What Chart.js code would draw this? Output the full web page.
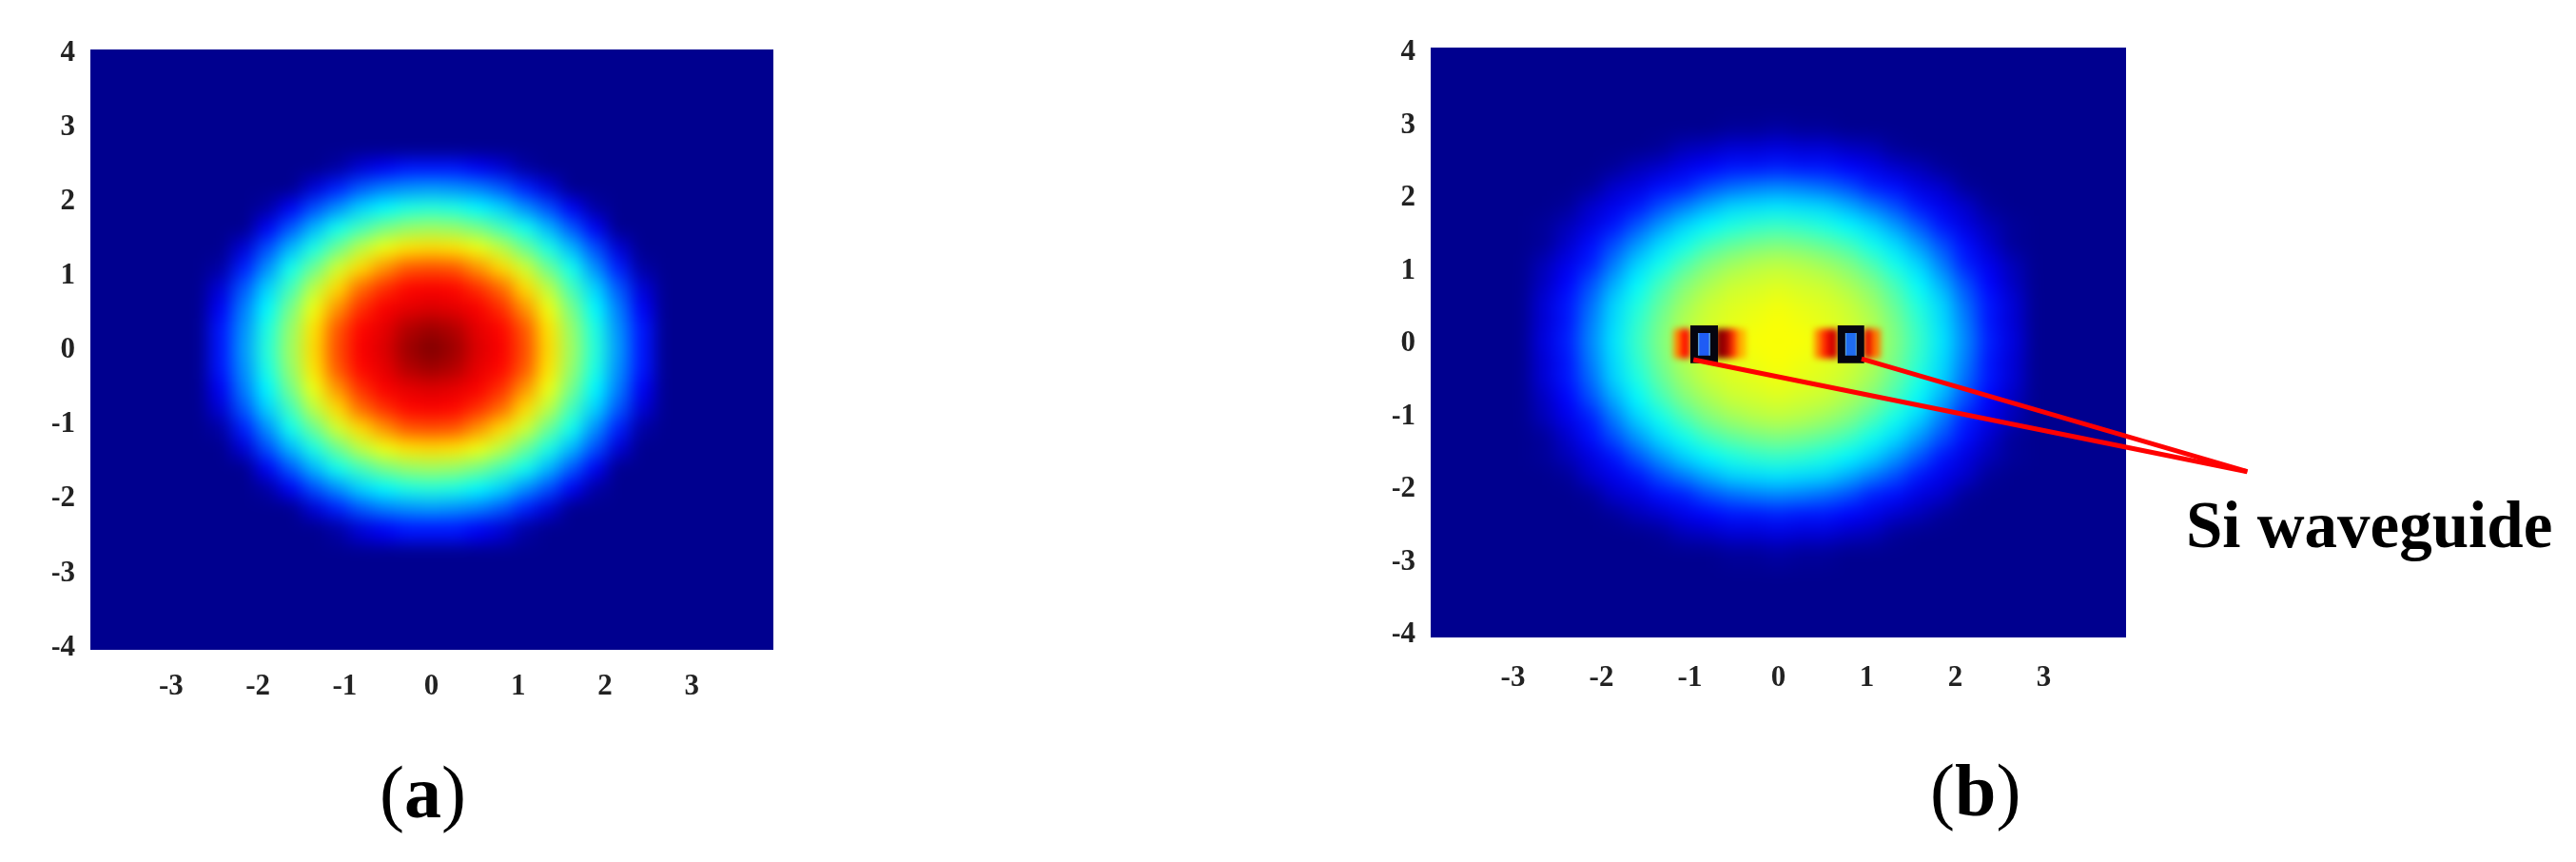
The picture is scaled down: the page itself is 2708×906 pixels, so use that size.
<!DOCTYPE html>
<html>
<head>
<meta charset="utf-8">
<script src="https://cdn.jsdelivr.net/npm/chart.js@4"></script>
<style>
    html, body { margin: 0; background: #fff; }
    body { width: 2708px; height: 906px; position: relative; overflow: hidden; }
    canvas { position: absolute; top: 0; }
    #chart_a { left: 0; }
    #chart_b { left: 1400px; }
    .label { position: absolute; font-family: "Liberation Serif"; line-height: 1; color: #000; white-space: nowrap; }
</style>
</head>
<body>
<canvas id="chart_a" width="1000" height="906"></canvas>
<canvas id="chart_b" width="1308" height="906"></canvas>
<span class="label" style="left:399px;top:794px;font-size:78px">(<b>a</b>)</span>
<span class="label" style="left:2029px;top:792px;font-size:78px">(<b>b</b>)</span>
<span class="label" style="left:2298px;top:518px;font-size:69px;font-weight:bold">Si waveguide</span>
<script>
const xTicks = [-3, -2, -1, 0, 1, 2, 3]
const yTicks = [-4, -3, -2, -1, 0, 1, 2, 3, 4]

// panel (a), field in percent of the colour range
const xCellsA = [-2.43, -2.16, -1.89, -1.62, -1.35, -1.08, -0.81, -0.54, -0.27, 0, 0.27, 0.54, 0.81, 1.08, 1.35, 1.62, 1.89, 2.16, 2.43]
const yCellsA = [2.43, 2.16, 1.89, 1.62, 1.35, 1.08, 0.81, 0.54, 0.27, 0, -0.27, -0.54, -0.81, -1.08, -1.35, -1.62, -1.89, -2.16, -2.43]
const fieldA = [
    [0, 0, 0, 0, 0, 2, 7, 10, 13, 13, 13, 10, 7, 2, 0, 0, 0, 0, 0],
    [0, 0, 0, 0, 7, 14, 20, 24, 26, 27, 26, 24, 20, 14, 7, 0, 0, 0, 0],
    [0, 0, 2, 10, 19, 26, 33, 37, 40, 41, 40, 37, 33, 26, 19, 10, 2, 0, 0],
    [0, 0, 10, 20, 30, 39, 44, 49, 52, 53, 52, 49, 44, 39, 30, 20, 10, 0, 0],
    [0, 7, 19, 30, 40, 48, 56, 61, 65, 66, 65, 61, 56, 48, 40, 30, 19, 7, 0],
    [2, 14, 26, 39, 48, 58, 66, 73, 79, 80, 79, 73, 66, 58, 48, 39, 26, 14, 2],
    [7, 20, 33, 44, 56, 66, 77, 83, 87, 88, 87, 83, 77, 66, 56, 44, 33, 20, 7],
    [10, 24, 37, 49, 61, 73, 83, 88, 90, 91, 90, 88, 83, 73, 61, 49, 37, 24, 10],
    [13, 26, 40, 52, 65, 79, 87, 90, 95, 97, 95, 90, 87, 79, 65, 52, 40, 26, 13],
    [13, 27, 41, 53, 66, 80, 88, 91, 97, 100, 97, 91, 88, 80, 66, 53, 41, 27, 13],
    [13, 26, 40, 52, 65, 79, 87, 90, 95, 97, 95, 90, 87, 79, 65, 52, 40, 26, 13],
    [10, 24, 37, 49, 61, 73, 83, 88, 90, 91, 90, 88, 83, 73, 61, 49, 37, 24, 10],
    [7, 20, 33, 44, 56, 66, 77, 83, 87, 88, 87, 83, 77, 66, 56, 44, 33, 20, 7],
    [2, 14, 26, 39, 48, 58, 66, 73, 79, 80, 79, 73, 66, 58, 48, 39, 26, 14, 2],
    [0, 7, 19, 30, 40, 48, 56, 61, 65, 66, 65, 61, 56, 48, 40, 30, 19, 7, 0],
    [0, 0, 10, 20, 30, 39, 44, 49, 52, 53, 52, 49, 44, 39, 30, 20, 10, 0, 0],
    [0, 0, 2, 10, 19, 26, 33, 37, 40, 41, 40, 37, 33, 26, 19, 10, 2, 0, 0],
    [0, 0, 0, 0, 7, 14, 20, 24, 26, 27, 26, 24, 20, 14, 7, 0, 0, 0, 0],
    [0, 0, 0, 0, 0, 2, 7, 10, 13, 13, 13, 10, 7, 2, 0, 0, 0, 0, 0]
]

// panel (b)
const xCellsB = [-2.65, -2.385, -2.12, -1.855, -1.59, -1.325, -1.06, -0.795, -0.53, -0.265, 0, 0.265, 0.53, 0.795, 1.06, 1.325, 1.59, 1.855, 2.12, 2.385, 2.65]
const yCellsB = [2.915, 2.65, 2.385, 2.12, 1.855, 1.59, 1.325, 1.06, 0.795, 0.53, 0.265, 0, -0.265, -0.53, -0.795, -1.06, -1.325, -1.59, -1.855, -2.12, -2.385, -2.65, -2.915]
const fieldB = [
    [0, 0, 0, 0, 0, 0, 0, 0, 1, 1, 2, 1, 1, 0, 0, 0, 0, 0, 0, 0, 0],
    [0, 0, 0, 0, 0, 1, 4, 5, 7, 7, 8, 7, 7, 5, 4, 1, 0, 0, 0, 0, 0],
    [0, 0, 0, 1, 4, 6, 9, 11, 13, 13, 14, 13, 13, 11, 9, 6, 4, 1, 0, 0, 0],
    [0, 0, 1, 6, 8, 12, 14, 19, 22, 24, 25, 24, 22, 19, 14, 12, 8, 6, 1, 0, 0],
    [0, 1, 6, 9, 13, 19, 24, 29, 33, 34, 35, 34, 33, 29, 24, 19, 13, 9, 6, 1, 0],
    [1, 4, 8, 13, 20, 27, 33, 37, 40, 42, 43, 42, 40, 37, 33, 27, 20, 13, 8, 4, 1],
    [1, 6, 12, 19, 27, 34, 39, 44, 47, 49, 50, 49, 47, 44, 39, 34, 27, 19, 12, 6, 1],
    [4, 9, 14, 24, 33, 39, 45, 50, 53, 55, 56, 55, 53, 50, 45, 39, 33, 24, 14, 9, 4],
    [5, 11, 19, 29, 37, 44, 50, 54, 57, 58, 59, 58, 57, 54, 50, 44, 37, 29, 19, 11, 5],
    [7, 13, 22, 33, 40, 47, 53, 57, 59, 60, 61, 60, 59, 57, 53, 47, 40, 33, 22, 13, 7],
    [7, 13, 24, 34, 42, 49, 55, 58, 60, 61, 62, 61, 60, 58, 55, 49, 42, 34, 24, 13, 7],
    [8, 14, 25, 35, 43, 50, 56, 59, 61, 62, 62, 62, 61, 59, 56, 50, 43, 35, 25, 14, 8],
    [7, 13, 24, 34, 42, 49, 55, 58, 60, 61, 62, 61, 60, 58, 55, 49, 42, 34, 24, 13, 7],
    [7, 13, 22, 33, 40, 47, 53, 57, 59, 60, 61, 60, 59, 57, 53, 47, 40, 33, 22, 13, 7],
    [5, 11, 19, 29, 37, 44, 50, 54, 57, 58, 59, 58, 57, 54, 50, 44, 37, 29, 19, 11, 5],
    [4, 9, 14, 24, 33, 39, 45, 50, 53, 55, 56, 55, 53, 50, 45, 39, 33, 24, 14, 9, 4],
    [1, 6, 12, 19, 27, 34, 39, 44, 47, 49, 50, 49, 47, 44, 39, 34, 27, 19, 12, 6, 1],
    [1, 4, 8, 13, 20, 27, 33, 37, 40, 42, 43, 42, 40, 37, 33, 27, 20, 13, 8, 4, 1],
    [0, 1, 6, 9, 13, 19, 24, 29, 33, 34, 35, 34, 33, 29, 24, 19, 13, 9, 6, 1, 0],
    [0, 0, 1, 6, 8, 12, 14, 19, 22, 24, 25, 24, 22, 19, 14, 12, 8, 6, 1, 0, 0],
    [0, 0, 0, 1, 4, 6, 9, 11, 13, 13, 14, 13, 13, 11, 9, 6, 4, 1, 0, 0, 0],
    [0, 0, 0, 0, 0, 1, 4, 5, 7, 7, 8, 7, 7, 5, 4, 1, 0, 0, 0, 0, 0],
    [0, 0, 0, 0, 0, 0, 0, 0, 1, 1, 2, 1, 1, 0, 0, 0, 0, 0, 0, 0, 0]
]

// hot spots beside the two waveguides
const hotX = [-1.13, -1.05, -0.66, -0.58, -0.5, -0.42, 0.46, 0.54, 0.62, 1.02, 1.1]
const hotV = [74, 86, 100, 96, 82, 70, 74, 84, 92, 90, 76]
const hotY = [0.14, 0.07, 0, -0.07, -0.14]

// waveguide outlines and cores, panel (b)
const guideLeftX = [-0.952, -0.726, -0.726, -0.952, -0.952, -0.726]
const guideRightX = [0.713, 0.927, 0.927, 0.713, 0.713, 0.927]
const guideY = [0.198, 0.198, -0.218, -0.218, 0.198, 0.198]
const coreLeftX = [-0.84, -0.84]
const coreRightX = [0.82, 0.82]
const coreY = [0.16, -0.17]
const coreRimY = [0.2, -0.21]

// pointers to the label
const pointerLeftX = [-0.96, 5.3]
const pointerLeftY = [-0.22, -1.76]
const pointerRightX = [0.94, 5.3]
const pointerRightY = [-0.21, -1.76]
const headX = [5.27]
const headY = [-1.745]

function jet(v) {
    const stops = [[0, 0, 0, 143], [0.11, 0, 0, 255], [0.375, 0, 255, 255], [0.625, 255, 255, 0], [0.875, 255, 0, 0], [1, 128, 0, 0]]
    for (let i = 1; i < stops.length; i++) {
        if (v <= stops[i][0]) {
            let a = stops[i - 1], b = stops[i]
            let t = (v - a[0]) / (b[0] - a[0])
            return 'rgb(' + Math.round(a[1] + (b[1] - a[1]) * t) + ',' + Math.round(a[2] + (b[2] - a[2]) * t) + ',' + Math.round(a[3] + (b[3] - a[3]) * t) + ')'
        }
    }
    return 'rgb(128,0,0)'
}

function cells(xs, ys, rows, radius, blurPx, order) {
    let data = [], colors = []
    for (let j = 0; j < ys.length; j++) {
        for (let i = 0; i < xs.length; i++) {
            data.push({ x: xs[i], y: ys[j] })
            colors.push(jet(rows[j][i] / 100))
        }
    }
    return {
        data: data, order: order, blurPx: blurPx, showLine: false,
        pointStyle: 'rect', pointRadius: radius, pointBorderWidth: 0, pointBackgroundColor: colors
    }
}

function line(xs, ys, color, width, order) {
    return {
        data: xs.map((x, i) => ({ x: x, y: ys[i] })), order: order, showLine: true, clip: false,
        borderColor: color, borderWidth: width, pointRadius: 0, tension: 0,
        borderCapStyle: 'butt', borderJoinStyle: 'miter'
    }
}

// navy panel behind the cells, soft edges between them
const heatPlugin = {
    id: 'heat',
    beforeDatasetsDraw(chart) {
        let a = chart.chartArea
        chart.ctx.save()
        chart.ctx.fillStyle = 'rgb(0,0,143)'
        chart.ctx.fillRect(a.left, a.top, a.right - a.left, a.bottom - a.top)
        chart.ctx.restore()
    },
    afterDatasetDraw(chart, args) {
        let blurPx = chart.data.datasets[args.index].blurPx
        if (!blurPx) return
        let a = chart.chartArea, ctx = chart.ctx, inset = blurPx * 3
        ctx.save()
        ctx.beginPath()
        ctx.rect(a.left + inset, a.top + inset, a.right - a.left - inset * 2, a.bottom - a.top - inset * 2)
        ctx.clip()
        ctx.filter = 'blur(' + blurPx + 'px)'
        ctx.drawImage(chart.canvas, 0, 0)
        ctx.restore()
    }
}

function makeChart(id, datasets, box) {
    let canvas = document.getElementById(id)
    return new Chart(canvas, {
        type: 'scatter',
        data: { datasets: datasets },
        plugins: [heatPlugin],
        options: {
            responsive: false,
            animation: false,
            devicePixelRatio: 1,
            events: [],
            layout: {
                padding: {
                    left: box.left - 40, right: canvas.width - box.right,
                    top: box.top, bottom: canvas.height - box.bottom - 60
                }
            },
            plugins: { legend: { display: false }, tooltip: { enabled: false } },
            scales: {
                x: {
                    type: 'linear', min: box.xMin, max: box.xMax,
                    grid: { display: false }, border: { display: false },
                    afterBuildTicks: s => { s.ticks = xTicks.map(v => ({ value: v })) },
                    afterFit: s => { s.height = 60 },
                    ticks: {
                        autoSkip: false, maxRotation: 0, padding: box.tickPad, color: '#222',
                        font: { family: 'Liberation Serif', size: 31, weight: 'bold' },
                        callback: v => String(v)
                    }
                },
                y: {
                    type: 'linear', min: box.yMin, max: box.yMax,
                    grid: { display: false }, border: { display: false },
                    afterBuildTicks: s => { s.ticks = yTicks.map(v => ({ value: v })) },
                    afterFit: s => { s.width = 40 },
                    ticks: {
                        autoSkip: false, padding: 8, color: '#222',
                        font: { family: 'Liberation Serif', size: 31, weight: 'bold' },
                        callback: v => String(v)
                    }
                }
            }
        }
    })
}

makeChart('chart_a', [
    cells(xCellsA, yCellsA, fieldA, 18, 9, 1)
], { left: 95, right: 813, top: 52, bottom: 683, xMin: -3.93, xMax: 3.94, yMin: -4.03, yMax: 4.05, tickPad: 12 })

makeChart('chart_b', [
    line(pointerLeftX, pointerLeftY, '#ff0000', 5, 1),
    line(pointerRightX, pointerRightY, '#ff0000', 5, 1),
    {
        data: headX.map((x, i) => ({ x: x, y: headY[i] })), order: 1, clip: false, showLine: false,
        pointStyle: 'triangle', pointRotation: 104, pointRadius: 15, pointBorderWidth: 0, pointBackgroundColor: '#ff0000'
    },
    line(guideLeftX, guideY, '#05050f', 8, 2),
    line(guideRightX, guideY, '#05050f', 8, 2),
    line(coreLeftX, coreY, '#1f5cf5', 10, 3),
    line(coreRightX, coreY, '#1f6cf0', 10, 3),
    line(coreLeftX, coreRimY, '#5b9bd5', 14, 4),
    line(coreRightX, coreRimY, '#6fb4d8', 14, 4),
    cells(hotX, hotY, hotY.map(() => hotV), 7, 3, 5),
    cells(xCellsB, yCellsB, fieldB, 18, 9, 6)
], { left: 104, right: 835, top: 50, bottom: 670, xMin: -3.93, xMax: 3.93, yMin: -4.04, yMax: 4.07, tickPad: 16 })
</script>
</body>
</html>
